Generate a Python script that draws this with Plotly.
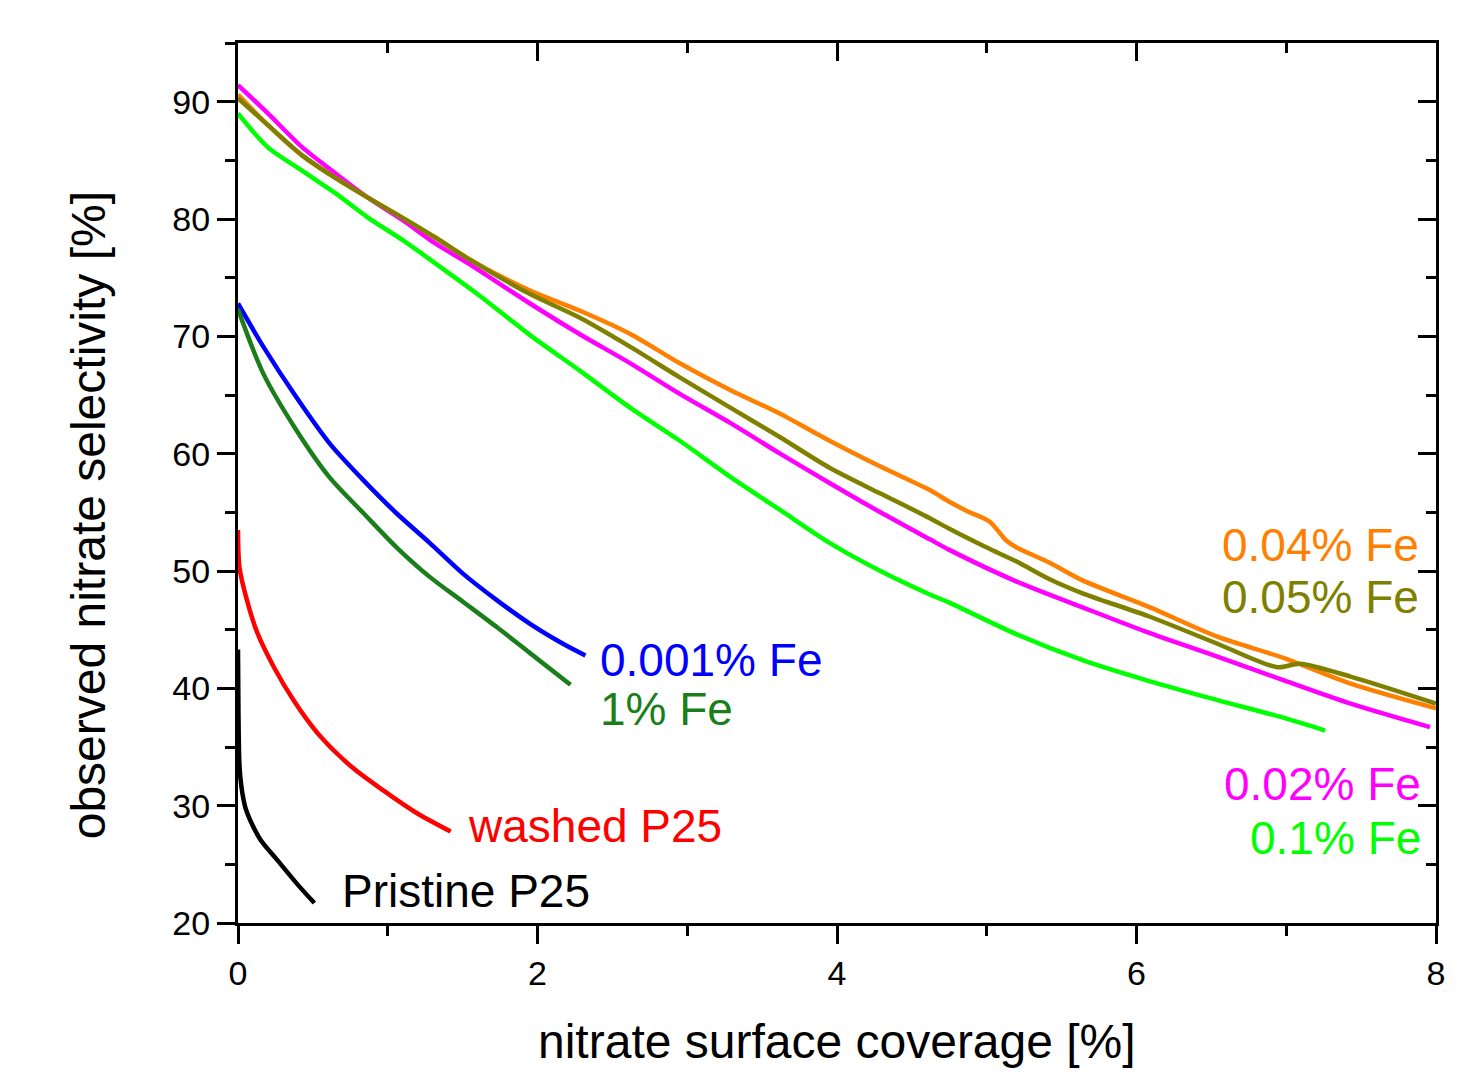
import plotly.graph_objects as go

# ---- data ----
pristine_x = [0, 0.003, 0.008, 0.015, 0.03, 0.05, 0.08, 0.15, 0.26, 0.39, 0.51]
pristine_y = [43.3, 38.0, 34.0, 32.5, 31.0, 29.8, 28.8, 27.1, 25.4, 23.4, 21.7]

washed_x = [0, 0.01, 0.06, 0.13, 0.24, 0.37, 0.53, 0.75, 0.97, 1.19, 1.42]
washed_y = [53.5, 50.3, 47.5, 44.7, 41.8, 39.0, 36.2, 33.4, 31.3, 29.4, 27.8]

fe0001_x = [0, 0.17, 0.39, 0.61, 0.84, 1.06, 1.28, 1.50, 1.73, 1.95, 2.17, 2.32]
fe0001_y = [72.8, 69.1, 64.8, 60.9, 57.7, 54.9, 52.4, 49.8, 47.5, 45.5, 43.8, 42.8]

fe1_x = [0, 0.17, 0.39, 0.61, 0.84, 1.06, 1.28, 1.50, 1.73, 1.95, 2.22]
fe1_y = [72.3, 66.8, 62.0, 58.0, 54.9, 52.0, 49.5, 47.4, 45.2, 43.0, 40.3]

fe002_x = [0, 0.2, 0.43, 0.65, 0.87, 1.10, 1.32, 1.54, 1.95, 2.28, 2.62, 2.95, 3.29,
           3.62, 3.95, 4.29, 4.62, 4.75, 5.2, 5.64, 6.09, 6.54, 6.98, 7.43, 7.96]
fe002_y = [91.4, 89.0, 86.1, 83.9, 81.8, 79.9, 77.9, 76.2, 72.8, 70.2, 67.7, 65.1, 62.6,
           60.0, 57.5, 55.0, 52.7, 51.8, 49.1, 46.9, 44.7, 42.7, 40.7, 38.7, 36.7]

fe004_x = [0, 0.2, 0.43, 0.65, 0.87, 1.10, 1.32, 1.54, 1.95, 2.28, 2.62, 2.95, 3.29,
           3.62, 3.95, 4.29, 4.62, 4.75, 4.87, 5.02, 5.13, 5.2, 5.42, 5.64, 6.09, 6.54,
           6.98, 7.43, 8.0]
fe004_y = [90.6, 88.0, 85.4, 83.5, 81.8, 80.1, 78.4, 76.6, 73.9, 72.2, 70.2, 67.7, 65.4,
           63.4, 61.1, 58.9, 56.9, 55.9, 55.1, 54.2, 52.6, 52.0, 50.7, 49.2, 46.9, 44.4,
           42.6, 40.4, 38.3]

fe005_x = [0, 0.2, 0.43, 0.65, 0.87, 1.10, 1.32, 1.54, 1.95, 2.28, 2.62, 2.95, 3.29,
           3.62, 3.95, 4.29, 4.62, 4.75, 5.0, 5.2, 5.42, 5.64, 6.09, 6.54, 6.94, 7.09,
           7.43, 8.0]
fe005_y = [90.3, 88.0, 85.4, 83.5, 81.8, 80.1, 78.4, 76.6, 73.6, 71.6, 69.1, 66.5, 63.9,
           61.4, 58.8, 56.6, 54.5, 53.6, 52.0, 50.8, 49.3, 48.1, 46.1, 43.8, 41.8, 42.1,
           41.0, 38.7]

fe01_x = [0, 0.2, 0.43, 0.65, 0.87, 1.10, 1.32, 1.62, 1.95, 2.28, 2.62, 2.95, 3.29,
          3.62, 3.95, 4.29, 4.62, 4.75, 5.2, 5.64, 6.09, 6.54, 6.98, 7.26]
fe01_y = [89.0, 86.1, 84.1, 82.2, 80.1, 78.2, 76.2, 73.4, 70.1, 67.1, 63.9, 61.1, 58.0,
          55.2, 52.4, 50.0, 48.0, 47.3, 44.6, 42.4, 40.6, 39.0, 37.5, 36.4]

series = [
    ("Pristine P25", pristine_x, pristine_y, "#000000", 0.681, 22.72, "left"),
    ("washed P25", washed_x, washed_y, "#FF0000", 1.523, 28.26, "left"),
    ("0.001% Fe", fe0001_x, fe0001_y, "#0000FF", 2.404, 42.4, "left"),
    ("1% Fe", fe1_x, fe1_y, "#1A7F1A", 2.404, 38.2, "left"),
    ("0.1% Fe", fe01_x, fe01_y, "#00FF00", 7.913, 27.24, "right"),
    ("0.02% Fe", fe002_x, fe002_y, "#FF00FF", 7.913, 31.84, "right"),
    ("0.04% Fe", fe004_x, fe004_y, "#FF8000", 7.90, 52.19, "right"),
    ("0.05% Fe", fe005_x, fe005_y, "#808000", 7.90, 47.76, "right"),
]

x_range = [0, 8]
y_range = [20, 95]
x_ticks = [0, 2, 4, 6, 8]
y_ticks = [20, 30, 40, 50, 60, 70, 80, 90]

FONT = "Liberation Sans, Arial, Helvetica, sans-serif"

fig = go.Figure()
for name, xs, ys, color, lx, ly, anchor in series:
    fig.add_trace(go.Scatter(x=xs, y=ys, mode="lines", name=name,
                             line=dict(color=color, width=4.5, shape="spline", smoothing=0.8),
                             showlegend=False))
    fig.add_annotation(x=lx, y=ly, xref="x", yref="y", text=name, showarrow=False,
                       xanchor=anchor, yanchor="middle",
                       font=dict(family=FONT, size=46, color=color))

# empty trace to activate the mirrored top/right axes
fig.add_trace(go.Scatter(x=[None], y=[None], xaxis="x2", yaxis="y2",
                         showlegend=False, hoverinfo="skip"))

axis_common = dict(showgrid=False, zeroline=False, showline=True, linecolor="black",
                   linewidth=3, tickcolor="black", tickwidth=3, ticklen=18)

fig.update_layout(
    width=1467, height=1065,
    margin=dict(l=230, r=39, t=35, b=150),
    paper_bgcolor="white", plot_bgcolor="white",
    font=dict(family=FONT, color="black"),
    xaxis=dict(range=x_range, tickvals=x_ticks, ticks="outside",
               tickfont=dict(size=34), minor=dict(ticks="outside", dtick=1, ticklen=10,
                                                   tickwidth=3, tickcolor="black"),
               **axis_common),
    yaxis=dict(range=y_range, tickvals=y_ticks, ticks="outside",
               tickfont=dict(size=34), minor=dict(ticks="outside", dtick=5, tick0=20,
                                                   ticklen=10, tickwidth=3, tickcolor="black"),
               **axis_common),
    xaxis2=dict(range=x_range, tickvals=x_ticks, ticks="inside", overlaying="x", side="top",
                showticklabels=False,
                minor=dict(ticks="inside", dtick=1, ticklen=10, tickwidth=3, tickcolor="black"),
                **axis_common),
    yaxis2=dict(range=y_range, tickvals=y_ticks, ticks="inside", overlaying="y", side="right",
                showticklabels=False,
                minor=dict(ticks="inside", dtick=5, tick0=20, ticklen=10, tickwidth=3,
                           tickcolor="black"),
                **axis_common),
)

fig.add_annotation(x=0.5, y=-0.135, xref="paper", yref="paper",
                   text="nitrate surface coverage [%]", showarrow=False,
                   xanchor="center", yanchor="middle", font=dict(family=FONT, size=48))
fig.add_annotation(x=-0.125, y=0.4636, xref="paper", yref="paper",
                   text="observed nitrate selectivity [%]", showarrow=False, textangle=-90,
                   xanchor="center", yanchor="middle", font=dict(family=FONT, size=48))

fig.write_html("out.html")
